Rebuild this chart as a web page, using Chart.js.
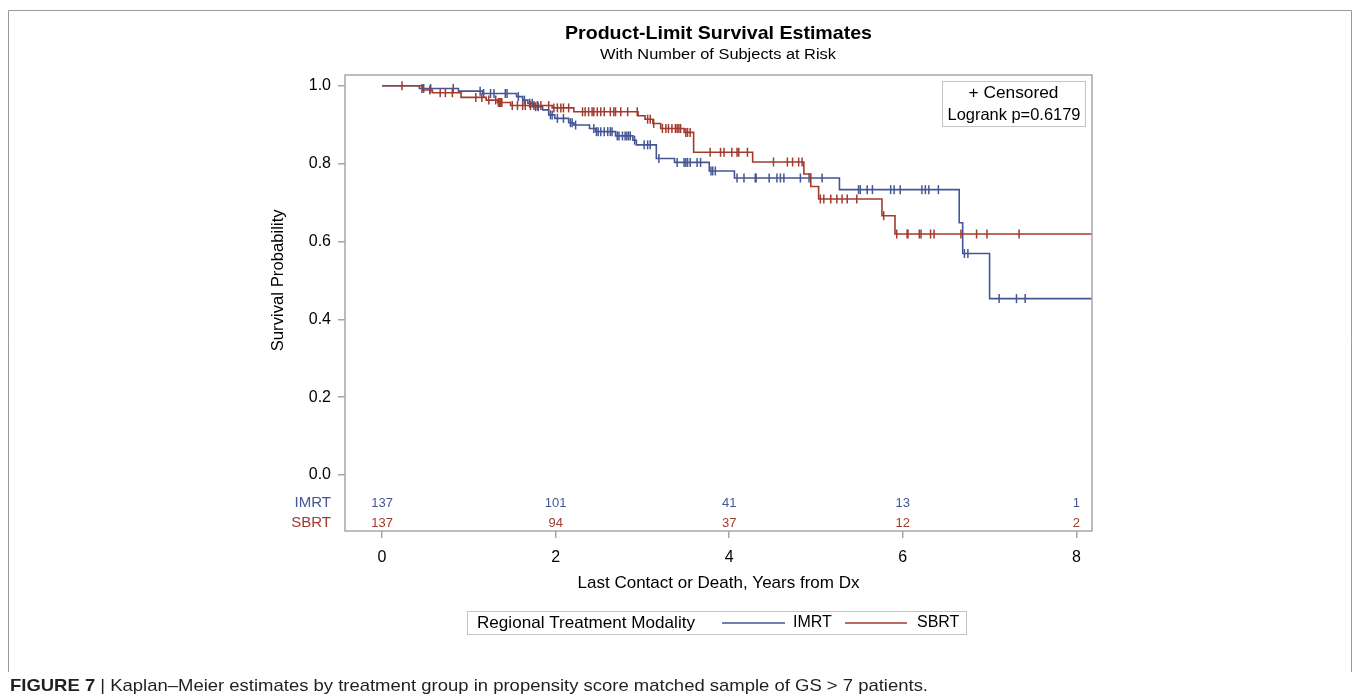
<!DOCTYPE html>
<html><head><meta charset="utf-8">
<script src="https://cdn.jsdelivr.net/npm/chart.js@4.4.1/dist/chart.umd.min.js"></script>
<style>html,body{margin:0;padding:0;background:#fff;}#wrap{width:1359px;height:699px;position:relative;}</style>
</head><body><div id="wrap"><canvas id="c" width="1359" height="699"></canvas></div>
<script>
// ---------------- DATA ----------------
const groupNames = ['IMRT', 'SBRT'];
const imrtTimes = [0, 0.43, 0.88, 1.16, 1.55, 1.62, 1.68, 1.75, 1.85, 1.92, 1.99, 2.15, 2.21, 2.39, 2.46, 2.69, 2.89, 2.93, 3.16, 3.37, 3.77, 4.06, 5.27, 6.65, 6.69, 7.00, 8.20];
const imrtSurv  = [1.000, 0.993, 0.986, 0.980, 0.972, 0.963, 0.955, 0.946, 0.938, 0.925, 0.916, 0.905, 0.899, 0.890, 0.882, 0.871, 0.860, 0.848, 0.813, 0.803, 0.781, 0.763, 0.733, 0.648, 0.569, 0.453, 0.453];
const imrtCensored = [0.46, 0.48, 0.56, 0.82, 1.13, 1.17, 1.25, 1.29, 1.42, 1.44, 1.57, 1.64, 1.70, 1.73, 1.77, 1.80, 1.94, 1.96, 2.02, 2.09, 2.17, 2.19, 2.23, 2.44, 2.47, 2.49, 2.52, 2.56, 2.60, 2.63, 2.65, 2.71, 2.73, 2.77, 2.80, 2.82, 2.84, 2.86, 2.91, 3.02, 3.06, 3.09, 3.19, 3.40, 3.48, 3.50, 3.52, 3.55, 3.63, 3.67, 3.79, 3.81, 3.84, 4.09, 4.17, 4.30, 4.31, 4.46, 4.55, 4.59, 4.63, 4.82, 4.92, 5.07, 5.49, 5.51, 5.59, 5.65, 5.86, 5.90, 5.97, 6.22, 6.26, 6.30, 6.41, 6.71, 6.75, 7.11, 7.31, 7.41];
const sbrtTimes = [0, 0.47, 0.58, 0.91, 1.20, 1.33, 1.48, 1.96, 2.21, 2.95, 3.03, 3.12, 3.21, 3.48, 3.59, 4.27, 4.86, 4.94, 5.03, 5.76, 5.91, 8.20];
const sbrtSurv  = [1.000, 0.989, 0.982, 0.970, 0.963, 0.957, 0.949, 0.943, 0.933, 0.923, 0.914, 0.903, 0.890, 0.880, 0.829, 0.804, 0.773, 0.741, 0.709, 0.666, 0.619, 0.619];
const sbrtCensored = [0.23, 0.55, 0.67, 0.73, 0.81, 1.08, 1.15, 1.23, 1.31, 1.34, 1.35, 1.36, 1.37, 1.38, 1.50, 1.56, 1.62, 1.65, 1.71, 1.75, 1.79, 1.83, 1.92, 1.98, 2.02, 2.06, 2.09, 2.15, 2.31, 2.34, 2.38, 2.42, 2.44, 2.48, 2.52, 2.56, 2.63, 2.67, 2.69, 2.75, 2.83, 2.94, 3.06, 3.09, 3.13, 3.23, 3.27, 3.30, 3.34, 3.38, 3.40, 3.42, 3.44, 3.50, 3.52, 3.55, 3.78, 3.90, 3.94, 4.03, 4.09, 4.11, 4.21, 4.51, 4.67, 4.73, 4.80, 4.84, 5.05, 5.09, 5.17, 5.24, 5.30, 5.36, 5.47, 5.78, 5.93, 6.05, 6.06, 6.19, 6.21, 6.32, 6.36, 6.67, 6.85, 6.97, 7.34];
const atRiskTimes = [0, 2, 4, 6, 8];
const imrtAtRisk = [137, 101, 41, 13, 1];
const sbrtAtRisk = [137, 94, 37, 12, 2];
const xTickValues = [0, 2, 4, 6, 8];
const yTickValues = [0.0, 0.2, 0.4, 0.6, 0.8, 1.0];
const titleText = 'Product-Limit Survival Estimates';
const subtitleText = 'With Number of Subjects at Risk';
const xTitle = 'Last Contact or Death, Years from Dx';
const yTitle = 'Survival Probability';
const insetLines = ['+ Censored', 'Logrank p=0.6179'];
const legendTitle = 'Regional Treatment Modality';
const captionBold = 'FIGURE 7';
const captionRest = ' | Kaplan\u2013Meier estimates by treatment group in propensity score matched sample of GS > 7 patients.';

// ---------------- STYLE ----------------
const BLUE = '#445694';
const RED = '#A23A2E';
const FRAME = '#a3a7ac';
const FONT = "'Liberation Sans', Arial, Helvetica, sans-serif";

function stepValue(times, surv, t) {
  let s = surv[0];
  for (let i = 0; i < times.length; i++) { if (times[i] <= t) s = surv[i]; }
  return s;
}
const pts = (times, surv) => times.map((t, i) => ({ x: t, y: surv[i] }));
const cens = (c, times, surv) => c.map(t => ({ x: t, y: stepValue(times, surv, t) }));

// draw text horizontally scaled to a target width; x is the centre
function fitCenter(ctx, text, cx, cy, width) {
  const w = ctx.measureText(text).width;
  const sx = width / w;
  ctx.save();
  ctx.translate(cx - width / 2, cy);
  ctx.scale(sx, 1);
  ctx.textAlign = 'left';
  ctx.fillText(text, 0, 0);
  ctx.restore();
}

const decor = {
  id: 'decor',
  beforeDraw(chart) {
    const ctx = chart.ctx;
    ctx.save();
    ctx.fillStyle = '#fff';
    ctx.fillRect(0, 0, chart.width, chart.height);
    ctx.strokeStyle = '#9a9a9a';
    ctx.lineWidth = 1;
    ctx.beginPath();
    ctx.moveTo(8.5, 672); ctx.lineTo(8.5, 10.5); ctx.lineTo(1351.5, 10.5); ctx.lineTo(1351.5, 672);
    ctx.stroke();
    ctx.restore();
  },
  afterDraw(chart) {
    const ctx = chart.ctx;
    const a = chart.chartArea;
    const xs = chart.scales.x;
    const ys = chart.scales.y;
    ctx.save();
    // frame
    ctx.strokeStyle = FRAME;
    ctx.lineWidth = 1.5;
    ctx.strokeRect(a.left, a.top, a.right - a.left, a.bottom - a.top);
    // title
    ctx.fillStyle = '#000';
    ctx.textBaseline = 'middle';
    ctx.font = "bold 19px " + FONT;
    fitCenter(ctx, titleText, 718.5, 34, 307);
    ctx.font = "15.5px " + FONT;
    fitCenter(ctx, subtitleText, 718, 55, 236);
    // y-axis title (centred on the 0..1 probability range)
    ctx.save();
    const yc = (ys.getPixelForValue(0) + ys.getPixelForValue(1)) / 2;
    ctx.translate(278, yc);
    ctx.rotate(-Math.PI / 2);
    ctx.font = "16.5px " + FONT;
    fitCenter(ctx, yTitle, 0, 0, 142);
    ctx.restore();
    // inset box
    ctx.strokeStyle = '#c4c4c4';
    ctx.lineWidth = 1;
    ctx.strokeRect(942.5, 81.5, 143, 45);
    ctx.font = "16.5px " + FONT;
    ctx.fillStyle = '#000';
    fitCenter(ctx, insetLines[0], 1013.5, 93, 90);
    fitCenter(ctx, insetLines[1], 1014, 115, 133);
    // at-risk table
    const rowY = [503, 523];
    const rows = [imrtAtRisk, sbrtAtRisk];
    const cols = [BLUE, RED];
    for (let r = 0; r < 2; r++) {
      ctx.fillStyle = cols[r];
      ctx.font = "15px " + FONT;
      ctx.textAlign = 'right';
      ctx.fillText(groupNames[r], 331, rowY[r]);
      ctx.font = "13px " + FONT;
      ctx.textAlign = 'center';
      atRiskTimes.forEach((t, i) => {
        ctx.fillText(String(rows[r][i]), xs.getPixelForValue(t), rowY[r]);
      });
    }
    // bottom legend
    ctx.strokeStyle = '#c4c4c4';
    ctx.lineWidth = 1;
    ctx.strokeRect(467.5, 611.5, 499, 23);
    ctx.fillStyle = '#000';
    ctx.font = "16.5px " + FONT;
    fitCenter(ctx, legendTitle, 586, 623, 218);
    ctx.textAlign = 'left';
    ctx.font = "16px " + FONT;
    ctx.lineWidth = 1.5;
    ctx.strokeStyle = BLUE;
    ctx.beginPath(); ctx.moveTo(722, 623); ctx.lineTo(785, 623); ctx.stroke();
    ctx.fillText(groupNames[0], 793, 623);
    ctx.strokeStyle = RED;
    ctx.beginPath(); ctx.moveTo(845, 623); ctx.lineTo(907, 623); ctx.stroke();
    ctx.fillText(groupNames[1], 917, 623);
    // caption
    ctx.fillStyle = '#231f20';
    ctx.font = "bold 17px " + FONT;
    const wb = ctx.measureText(captionBold).width;
    ctx.font = "17px " + FONT;
    const wr = ctx.measureText(captionRest).width;
    const sx = (928 - 10) / (wb + wr);
    ctx.translate(10, 686);
    ctx.scale(sx, 1);
    ctx.textAlign = 'left';
    ctx.font = "bold 17px " + FONT;
    ctx.fillText(captionBold, 0, 0);
    ctx.font = "17px " + FONT;
    ctx.fillText(captionRest, wb, 0);
    ctx.restore();
  }
};

new Chart(document.getElementById('c'), {
  type: 'line',
  data: {
    datasets: [
      { label: 'SBRT censored', type: 'scatter', data: cens(sbrtCensored, sbrtTimes, sbrtSurv), pointStyle: 'line', rotation: 90, pointRadius: 4.5, borderColor: RED, backgroundColor: RED, pointBorderWidth: 1.5, showLine: false },
      { label: 'SBRT', data: pts(sbrtTimes, sbrtSurv), stepped: 'before', borderColor: RED, borderWidth: 1.6, pointRadius: 0, fill: false },
      { label: 'IMRT censored', type: 'scatter', data: cens(imrtCensored, imrtTimes, imrtSurv), pointStyle: 'line', rotation: 90, pointRadius: 4.5, borderColor: BLUE, backgroundColor: BLUE, pointBorderWidth: 1.5, showLine: false },
      { label: 'IMRT', data: pts(imrtTimes, imrtSurv), stepped: 'before', borderColor: BLUE, borderWidth: 1.6, pointRadius: 0, fill: false }
    ]
  },
  options: {
    responsive: false,
    animation: false,
    devicePixelRatio: 1,
    layout: { padding: { left: 264, top: 75, right: 267, bottom: 102 } },
    plugins: { legend: { display: false }, tooltip: { enabled: false }, title: { display: false } },
    scales: {
      x: {
        type: 'linear', min: -0.427, max: 8.18,
        afterBuildTicks: s => { s.ticks = xTickValues.map(v => ({ value: v })); },
        afterFit: s => { s.height = 66; },
        ticks: { font: { family: FONT, size: 16 }, color: '#000', padding: 10, callback: v => String(v) },
        grid: { drawOnChartArea: false, drawTicks: true, tickLength: 7, color: FRAME, lineWidth: 1.5 },
        border: { display: false },
        title: { display: true, text: xTitle, font: { family: FONT, size: 17 }, color: '#000', padding: { top: 4, bottom: 3 } }
      },
      y: {
        type: 'linear', min: -0.144, max: 1.0275,
        afterBuildTicks: s => { s.ticks = yTickValues.map(v => ({ value: v })); },
        afterFit: s => { s.width = 81; },
        ticks: { font: { family: FONT, size: 16 }, color: '#000', padding: 7, callback: v => Number(v).toFixed(1) },
        grid: { drawOnChartArea: false, drawTicks: true, tickLength: 7, color: FRAME, lineWidth: 1.5 },
        border: { display: false },
        title: { display: false }
      }
    }
  },
  plugins: [decor]
});
</script></body></html>
